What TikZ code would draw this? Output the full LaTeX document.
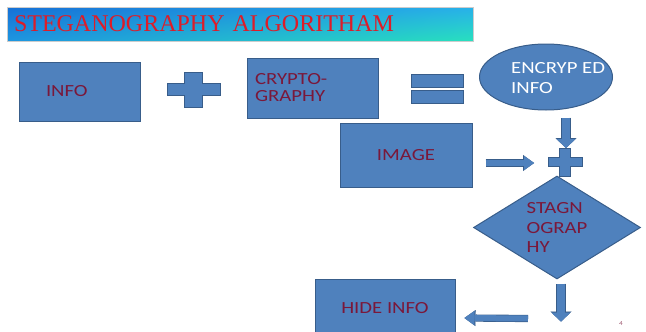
\documentclass[tikz,border=0pt]{standalone}
\usepackage{fontspec}
\setmainfont{Carlito}[FakeStretch=1.22]
\newfontfamily\titlefont{Liberation Serif}
\usetikzlibrary{arrows.meta,positioning,shapes.geometric,shadings,calc}
\definecolor{boxblue}{RGB}{79,129,189}
\definecolor{boxedge}{RGB}{56,93,138}
\definecolor{labelred}{RGB}{122,24,58}
\definecolor{titlered}{RGB}{222,28,40}
\definecolor{titleA}{RGB}{22,112,214}
\definecolor{titleB}{RGB}{40,176,234}
\definecolor{titleC}{RGB}{30,150,224}
\definecolor{titleD}{RGB}{40,224,190}

\begin{document}
\begin{tikzpicture}[
  x=1pt, y=-1pt,
  titlebar/.style={draw=black!20, line width=0.6pt, upper left=titleA, upper right=titleB, lower left=titleC, lower right=titleD,
    minimum height=34pt, text width=452pt, inner xsep=7pt, inner ysep=0pt, align=left, text=titlered,
    font=\titlefont\fontsize{24}{26}\selectfont},
  box/.style={draw=boxedge, fill=boxblue, line width=1pt, inner sep=0pt, text=labelred, font=\fontsize{17}{19.5}\selectfont},
  oval/.style={ellipse, box},
  decision/.style={diamond, box, shape aspect=1.6},
  sign/.style={draw=boxedge, fill=boxblue, line width=0.8pt},
  varr/.style={draw=boxblue, line width=8pt, -{Triangle[length=9pt,width=19pt,line width=0.1pt]},
    preaction={draw=boxedge, line width=9.4pt, -{Triangle[length=10pt,width=21pt,line width=0.1pt]}}},
  harr/.style={draw=boxblue, line width=6pt, -{Triangle[length=10pt,width=14pt,line width=0.1pt]},
    preaction={draw=boxedge, line width=7.2pt, -{Triangle[length=11pt,width=16pt,line width=0.1pt]}}}
]
\useasboundingbox (0,0) rectangle (646,332);

% title
\node[titlebar] (title) at (240,24) {STEGANOGRAPHY ALGORITHAM};

% first row
\node[box, minimum width=121pt, minimum height=59pt, text width=67pt, align=left] (info) at (79.5,91.5) {INFO};
\coordinate (plus1) at (193.5,89.5);
\draw[sign, shift={(plus1)}] (-9,-17.5) -- (9,-17.5) -- (9,-6) -- (26.5,-6) -- (26.5,6) -- (9,6) -- (9,17.5)
  -- (-9,17.5) -- (-9,6) -- (-26.5,6) -- (-26.5,-6) -- (-9,-6) -- cycle;
\node[box, minimum width=131pt, minimum height=60pt, text width=115pt, align=left,
  font=\fontsize{17}{17}\selectfont] (crypto) at (312.5,88) {CRYPTO-\\GRAPHY};
\coordinate (equal) at (437,89);
\draw[sign, shift={(equal)}] (-26,-14.5) rectangle (26,-1.5) (-26,1.5) rectangle (26,14.5);
\node[oval, minimum width=133pt, minimum height=66pt] (enc) at (546,77) {};
\node[inner sep=0pt, anchor=west, align=left, text=white, font=\fontsize{17}{20}\selectfont]
  (enctext) at ($(enc.west)+(32,1.5)$) {ENCRYP ED\\INFO};

% second row
\node[box, minimum width=132pt, minimum height=64pt] (image) at (406,155) {IMAGE};
\node[decision, minimum width=167pt, minimum height=103pt, align=left] (diam) at (557,227.5) {STAGN\\OGRAP\\HY};
\coordinate (plus2) at (565,162);
\draw[sign, shift={(plus2)}] (-5.5,-14) -- (5.5,-14) -- (5.5,-4.5) -- (17,-4.5) -- (17,4.5) -- (5.5,4.5) -- (5.5,14)
  -- (-5.5,14) -- (-5.5,4.5) -- (-17,4.5) -- (-17,-4.5) -- (-5.5,-4.5) -- cycle;

% bottom
\node[box, minimum width=140pt, minimum height=58pt] (hide) at (385,308) {HIDE INFO};
\coordinate (bend) at ($(diam.south)+(4,42)$);
\node[inner sep=0pt, text=labelred!70, font=\fontsize{6}{6}\selectfont] (pagenum) at (621,324) {4};

% arrows
\draw[varr] ($(enc.south -| plus2)+(1,7)$) -- ($(plus2)+(1,-14)$);
\draw[harr] ($(image.east)+(13,8)$) -- ($(plus2)+(-31,1)$);
\draw[varr] ($(diam.south)+(4,4)$) -- (bend);
\draw[harr] ($(bend)+(-33,-3)$) -- ($(hide.east)+(9,10)$);
\end{tikzpicture}
\end{document}
